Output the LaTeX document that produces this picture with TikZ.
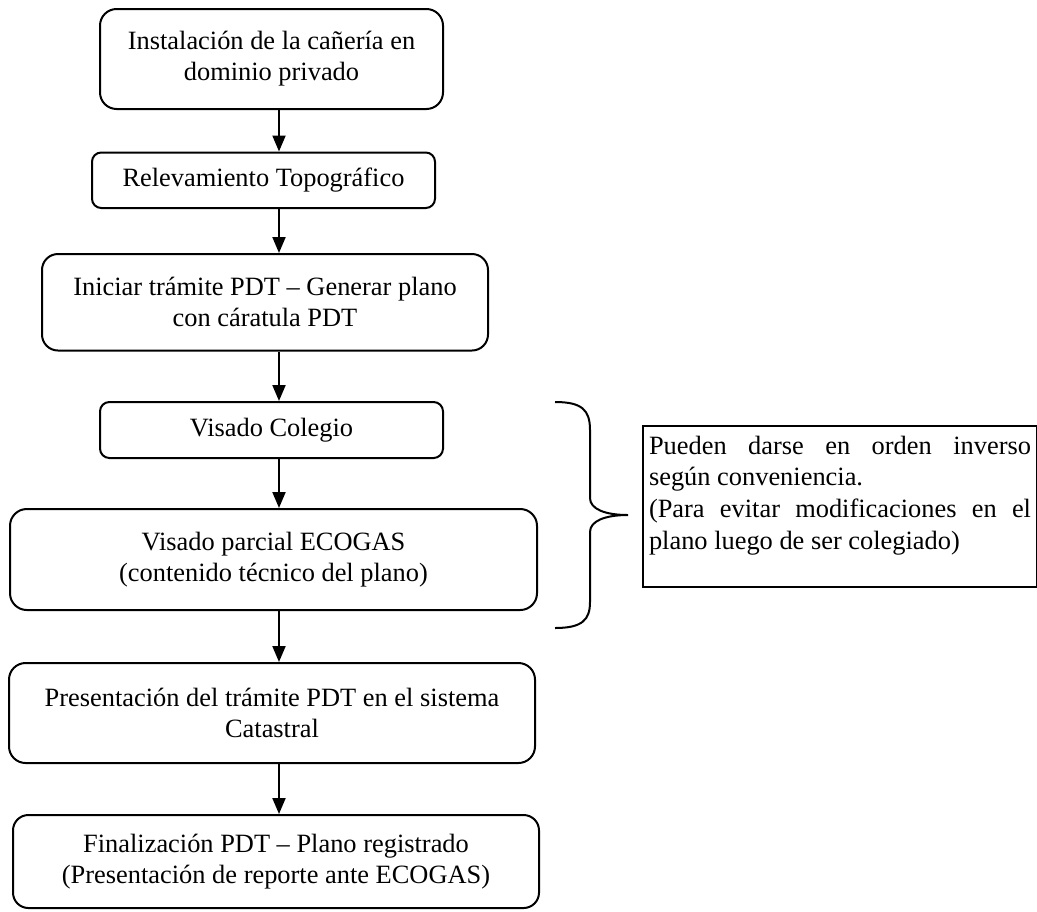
\documentclass[tikz,border=0pt]{standalone}
\usepackage{fontspec}
\setmainfont{Liberation Serif}
\usetikzlibrary{arrows.meta}
\begin{document}
\begin{tikzpicture}[x=0.5pt,y=-0.5pt]
			\tikzstyle{etape}=[draw,line width=1pt,align=center,inner sep=0pt,font=\fontsize{13.2}{15.4}\selectfont]
			\tikzstyle{fleche}=[-{Triangle[length=8pt,width=6.5pt]},line width=1pt]
			\tikzstyle{remarque}=[draw,line width=1pt,anchor=north west,inner xsep=3pt,inner ysep=5pt,font=\fontsize{13.2}{15.8}\selectfont]
			\tikzstyle{accolade}=[line width=1pt]
			\def\px{0.5pt}
			\def\AxeFleches{279}
			\useasboundingbox (0,0) rectangle (1037,911);
			\coordinate (axe) at (\AxeFleches,0);
			\node[etape,rounded corners=8.3pt,minimum width=343*\px,minimum height=100*\px] (E1) at (271.5,59) {Instalación de la cañería en\\dominio privado};
			\node[etape,rounded corners=4.6pt,minimum width=343*\px,minimum height=55.5*\px] (E2) at (263.5,180.25) {Relevamiento Topográfico};
			\node[etape,rounded corners=8pt,minimum width=446*\px,minimum height=96.5*\px] (E3) at (265,302.25) {Iniciar trámite PDT – Generar plano\\con cáratula PDT};
			\node[etape,rounded corners=4.7pt,minimum width=343*\px,minimum height=56*\px] (E4) at (271.5,430) {Visado Colegio};
			\node[etape,rounded corners=8.4pt,minimum width=527*\px,minimum height=101*\px] (E5) at (273.5,559.5) {Visado parcial ECOGAS\\(contenido técnico del plano)};
			\node[etape,rounded corners=8.3pt,minimum width=526*\px,minimum height=100*\px] (E6) at (272,713) {Presentación del trámite PDT en el sistema\\Catastral};
			\node[etape,rounded corners=7.7pt,minimum width=526*\px,minimum height=93*\px] (E7) at (276,861.5) {Finalización PDT – Plano registrado\\(Presentación de reporte ante ECOGAS)};
			\node[remarque] (N) at (642,425) {\parbox[t][70.5pt][t]{191pt}{Pueden darse en orden inverso\linebreak según conveniencia.\\(Para evitar modificaciones en el\linebreak plano luego de ser colegiado)}};
			\foreach \a/\b in {E1/E2,E2/E3,E3/E4,E4/E5,E5/E6,E6/E7}
				\draw[fleche] (\a.south -| axe) -- (\b.north -| axe);
			\draw[accolade] (555,402) .. controls (582,402) and (590,410) .. (590,430) -- (590,498) .. controls (590,509) and (605,515) .. (628,515) .. controls (605,515) and (590,521) .. (590,532) -- (590,602) .. controls (590,620) and (582,628) .. (555,628);
\end{tikzpicture}
\end{document}
